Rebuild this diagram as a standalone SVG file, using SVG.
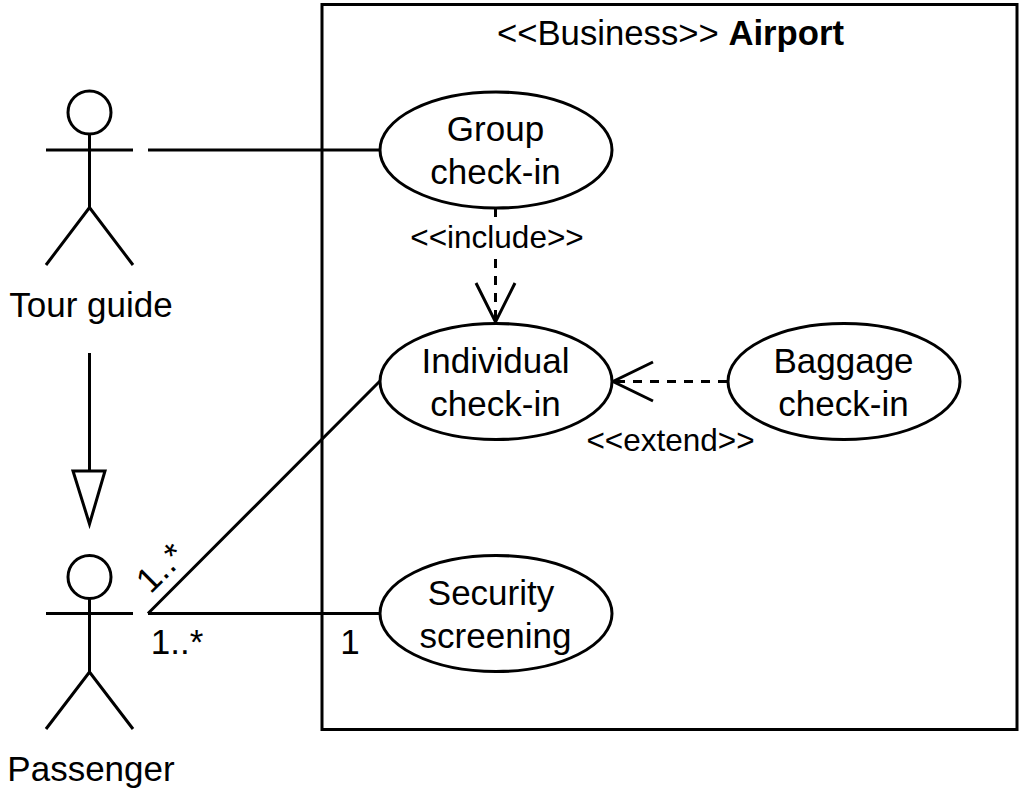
<svg xmlns="http://www.w3.org/2000/svg" width="1023" height="793" viewBox="0 0 1023 793">
<style>
text{font-family:"Liberation Sans",Arial,sans-serif;font-size:35px;fill:#000;text-anchor:middle}
.s{font-size:31.500px}
.l{fill:none;stroke:#000;stroke-width:3}
.e{fill:#fff;stroke:#000;stroke-width:3}
.d{fill:none;stroke:#000;stroke-width:3;stroke-dasharray:9 8}
</style>
<rect width="1023" height="793" fill="#fff"/>
<g id="system"><rect x="322" y="4.500" width="695" height="725" fill="#fff" stroke="#000" stroke-width="3"/>
<text x="670.500" y="45" style="font-size:34.700px"><tspan>&lt;&lt;Business&gt;&gt; </tspan><tspan font-weight="bold">Airport</tspan></text></g>
<g id="connectors">
<path class="l" d="M148 150H380M148 613.500H380M148 613.500L380 381M89.500 353V471"/>
<path class="e" d="M73 471H105L89.500 524Z"/>
<path class="d" d="M495.500 208V322M727 381.500H614"/>
<path class="l" d="M476 283L495.500 322L515 283M653 362L613 381.500L653 401"/>
</g>
<g id="tour-guide"><circle class="e" cx="89.500" cy="112.500" r="21.500"/><path class="l" d="M89.500 134V207.500M46 150H133M46 265L89.500 207.500L133 265"/><text x="91" y="317">Tour guide</text></g>
<g id="passenger"><circle class="e" cx="89.500" cy="577" r="21.500"/><path class="l" d="M89.500 598V672M46 613.500H133M46 729L89.500 672L133 729"/><text x="91" y="781">Passenger</text></g>
<g id="group-checkin"><ellipse class="e" cx="496" cy="150" rx="116" ry="58"/><text x="495.500" y="141">Group</text><text x="495.500" y="184">check-in</text></g>
<g id="individual-checkin"><ellipse class="e" cx="496" cy="381.500" rx="116" ry="58"/><text x="495.500" y="373">Individual</text><text x="495.500" y="416">check-in</text></g>
<g id="baggage-checkin"><ellipse class="e" cx="844" cy="381.500" rx="116" ry="58"/><text x="843.500" y="373">Baggage</text><text x="843.500" y="416">check-in</text></g>
<g id="security-screening"><ellipse class="e" cx="496" cy="613.500" rx="116" ry="58"/><text x="491" y="605">Security</text><text x="495.500" y="648">screening</text></g>
<g id="labels">
<rect x="411" y="222" width="172" height="31" fill="#fff"/>
<text class="s" x="497" y="248">&lt;&lt;include&gt;&gt;</text>
<text class="s" x="670.500" y="451">&lt;&lt;extend&gt;&gt;</text>
<text x="177" y="654">1..*</text>
<text x="350" y="654">1</text>
<text transform="translate(162 569) rotate(-45)" x="0" y="0" dy="10">1..*</text>
</g>
</svg>
